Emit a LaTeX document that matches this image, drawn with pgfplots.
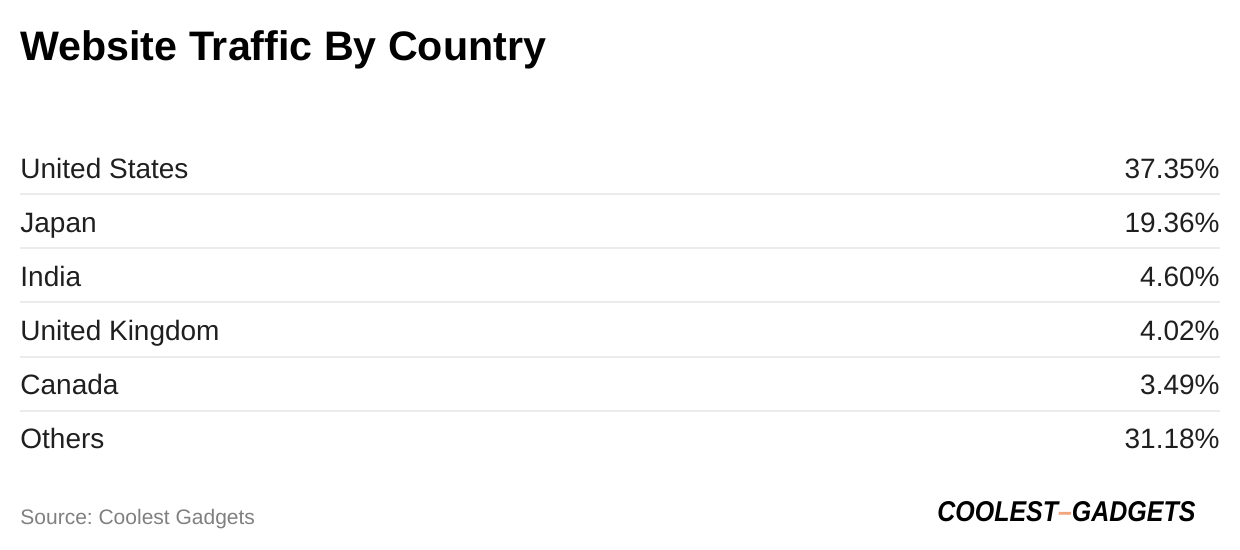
\documentclass[border=0pt]{standalone}
\usepackage{pgfplots}
\usepackage{pgfplotstable}
\usepackage{fontspec}
\setmainfont{Liberation Sans}
\pgfplotsset{compat=1.18}

\definecolor{rowtext}{HTML}{1F1F1F}
\definecolor{sepgray}{HTML}{EBEBEB}
\definecolor{srcgray}{HTML}{808080}
\definecolor{logoorange}{HTML}{F0A57C}

% one row per country: baseline y in pixels of a 1240x550 page
\pgfplotstableread{
y     country            share
178.5 {United States}    {37.35\%}
232.5 {Japan}            {19.36\%}
286.5 {India}            {4.60\%}
340.5 {{United Kingdom}} {4.02\%}
394.5 {Canada}           {3.49\%}
448.5 {Others}           {31.18\%}
}\traffic

\begin{document}
\frenchspacing
\begin{tikzpicture}
\begin{axis}[
    scale only axis,
    width=620pt, height=275pt,
    xmin=0, xmax=1240, ymin=0, ymax=550,
    y dir=reverse,
    hide axis,
    clip=false,
]
\path (axis cs:0,0) rectangle (axis cs:1240,550);

% row separators
\addplot[draw=sepgray, line width=1pt, unbounded coords=jump, mark=none] table {
x y
20 194.5
1220 194.5
nan nan
20 248.5
1220 248.5
nan nan
20 302.5
1220 302.5
nan nan
20 356.5
1220 356.5
nan nan
20 410.5
1220 410.5
};

% country names
\addplot[draw=none, mark=none, nodes near coords, point meta=explicit symbolic,
    nodes near coords style={anchor=base west, inner sep=0pt, font=\fontsize{14}{16}\selectfont, text=rowtext}]
    table[x expr=20, y=y, meta=country] {\traffic};

% shares
\addplot[draw=none, mark=none, nodes near coords, point meta=explicit symbolic,
    nodes near coords style={anchor=base east, inner sep=0pt, font=\fontsize{14}{16}\selectfont, text=rowtext}]
    table[x expr=1220, y=y, meta=share] {\traffic};

\node[anchor=base west, inner sep=0pt, font=\fontsize{20.6}{24}\selectfont\bfseries]
    at (axis cs:20,61) {Website Traffic By Country};
\node[anchor=base west, inner sep=0pt, font=\fontsize{10.5}{12}\selectfont, text=srcgray]
    at (axis cs:20,524) {Source: Coolest Gadgets};
\node[anchor=base west, inner sep=0pt, font=\fontsize{12}{14}\selectfont\bfseries\itshape]
    at (axis cs:937,521) {\resizebox{129pt}{10pt}{COOLEST\textcolor{logoorange}{--}GADGETS}};
\end{axis}
\end{tikzpicture}
\end{document}
